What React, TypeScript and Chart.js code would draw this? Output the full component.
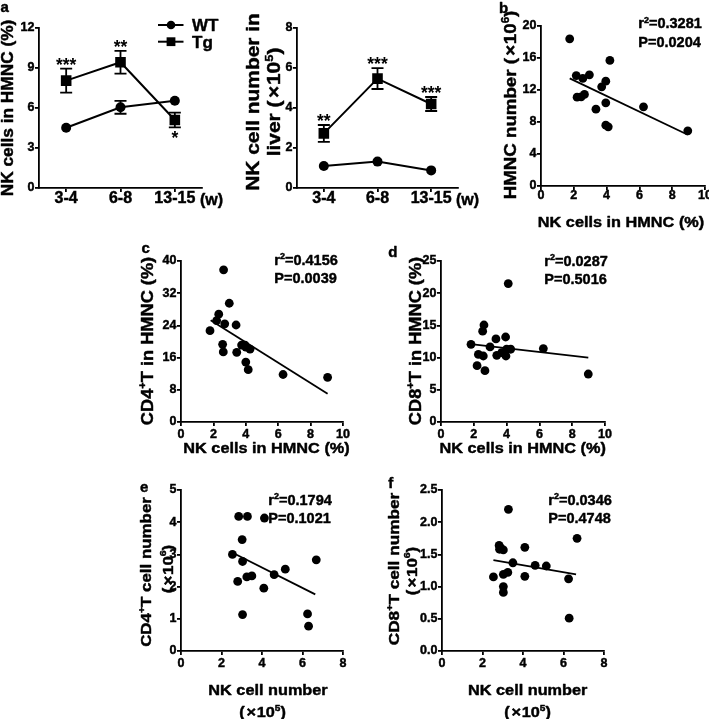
import React, { useEffect, useRef } from 'react';
import { Chart, registerables } from 'chart.js';

Chart.register(...registerables);

const W = 709;
const H = 719;
const FONT = '"Liberation Sans", Arial, Helvetica, sans-serif';
const HEAVY = 0.45;

// ---------- Panel a (left): NK cells in HMNC (%) ----------
const ageGroups = ['3-4', '6-8', '13-15'];
const pctWT = [4.52, 6.05, 6.55];
const pctWTErr = [0.1, 0.48, 0.12];
const pctTg = [8.05, 9.43, 5.1];
const pctTgErr = [0.9, 0.85, 0.55];
const pctStars = ['***', '**', '*'];
const pctStarSide = ['above', 'above', 'below'];

// ---------- Panel a (right): NK cell number in liver (x10^5) ----------
const numWT = [1.1, 1.32, 0.88];
const numWTErr = [0.08, 0.1, 0.08];
const numTg = [2.73, 5.47, 4.2];
const numTgErr = [0.42, 0.52, 0.35];
const numStars = ['**', '***', '***'];
const numStarSide = ['above', 'above', 'above'];

// ---------- Panel b ----------
const bNK = [1.75, 2.15, 2.2, 2.45, 2.65, 2.55, 2.95, 3.35, 3.7, 3.95, 3.95, 3.95, 4.1, 4.2, 6.25, 8.95];
const bHMNC = [18.4, 13.8, 11.1, 11.15, 11.45, 13.45, 13.9, 9.6, 12.4, 13.1, 10.4, 7.6, 7.4, 15.7, 9.9, 6.9];
const bFit = [[1.75, 13.45], [8.95, 6.4]];

// ---------- Panel c ----------
const cNK = [1.79, 2.2, 2.33, 2.63, 2.7, 2.57, 2.61, 2.98, 3.4, 3.44, 3.74, 3.95, 4.0, 4.26, 4.0, 4.15, 6.3, 9.05];
const cCD4 = [22.7, 25.2, 26.8, 37.8, 24.4, 19.3, 17.4, 29.5, 24.1, 17.3, 19.1, 19.1, 18.6, 18.1, 14.9, 13.0, 11.8, 11.1];
const cFit = [[1.83, 25.3], [9.05, 7.0]];

// ---------- Panel d ----------
const dNK = [1.83, 2.2, 2.28, 2.58, 2.62, 2.54, 2.68, 2.99, 3.35, 3.4, 3.7, 3.94, 3.96, 4.0, 4.25, 4.1, 6.24, 8.98];
const dCD8 = [12.06, 8.75, 10.5, 10.25, 15.06, 14.1, 7.97, 11.65, 12.9, 10.35, 10.77, 13.2, 10.25, 11.3, 11.3, 21.5, 11.4, 7.45];
const dFit = [[1.83, 12.1], [8.98, 10.0]];

// ---------- Panel e ----------
const eNK = [2.54, 2.8, 2.85, 3.02, 3.04, 3.04, 3.28, 3.25, 3.5, 4.09, 4.12, 4.6, 5.15, 6.68, 6.25, 6.3];
const eCD4 = [3.0, 2.16, 4.18, 3.46, 2.78, 1.13, 4.18, 2.3, 2.33, 1.95, 4.13, 2.37, 2.54, 2.83, 1.15, 0.77];
const eFit = [[2.55, 3.05], [6.63, 1.76]];

// ---------- Panel f ----------
const fNK = [2.54, 2.82, 2.84, 2.9, 3.03, 3.03, 3.25, 3.03, 3.03, 3.28, 3.5, 4.09, 4.09, 4.6, 5.15, 6.25, 6.28, 6.67];
const fCD8 = [1.15, 1.64, 1.58, 1.6, 1.57, 1.19, 1.22, 1.0, 0.91, 2.2, 1.37, 1.61, 1.16, 1.33, 1.32, 1.12, 0.51, 1.75];
const fFit = [[2.54, 1.41], [6.62, 1.19]];

type Box = { l: number; t: number; r: number; b: number };
type TextItem = {
  text: string;
  x: number;
  y: number;
  size: number;
  align?: 'left' | 'center' | 'right';
  rot?: boolean;
  along?: number;
  across?: number;
  base?: boolean;
};

function drawRich(ctx: CanvasRenderingContext2D, t: TextItem) {
  type Seg = { s: string; sup: boolean; w: number; padL: number; padR: number };
  const segs: Seg[] = [];
  const src = t.text;
  for (let i = 0; i < src.length; i++) {
    let ch = src[i];
    let sup = false;
    if (ch === '^') {
      sup = true;
      i++;
      ch = src[i];
    }
    const last = segs[segs.length - 1];
    if (!sup && ch !== '×' && last && !last.sup && last.s !== '×') last.s += ch;
    else segs.push({ s: ch, sup, w: 0, padL: 0, padR: 0 });
  }
  const size = t.size;
  const fontFor = (sg: Seg) => `bold ${sg.sup ? size * 0.62 : size}px ${FONT}`;
  let total = 0;
  for (const sg of segs) {
    ctx.font = fontFor(sg);
    sg.w = ctx.measureText(sg.s).width;
    if (sg.s === '×') {
      sg.padL = size * 0.12;
      sg.padR = size * 0.04;
    }
    total += sg.w + sg.padL + sg.padR;
  }
  ctx.save();
  ctx.translate(t.x, t.y);
  if (t.rot) ctx.rotate(-Math.PI / 2);
  ctx.scale(t.along ?? 1, t.across ?? 1);
  const align = t.align ?? 'center';
  let cx = align === 'center' ? -total / 2 : align === 'right' ? -total : 0;
  const baseY = t.base ? 0 : 0.358 * size;
  ctx.fillStyle = '#000';
  ctx.strokeStyle = '#000';
  ctx.lineWidth = HEAVY;
  ctx.lineJoin = 'round';
  ctx.textAlign = 'left';
  ctx.textBaseline = 'alphabetic';
  for (const sg of segs) {
    ctx.font = fontFor(sg);
    cx += sg.padL;
    const yy = sg.sup ? baseY - 0.4 * size : baseY;
    ctx.fillText(sg.s, cx, yy);
    ctx.strokeText(sg.s, cx, yy);
    cx += sg.w + sg.padR;
  }
  ctx.restore();
}

function makeScale(
  box: Box,
  axis: 'x' | 'y',
  o: { min?: number; max?: number; step?: number; size: number; pad: number; fmt?: (v: number) => string; category?: boolean }
) {
  const s: any = {
    position: axis === 'x' ? 'bottom' : 'left',
    grid: {
      display: true,
      drawOnChartArea: false,
      drawTicks: true,
      tickLength: 4,
      tickWidth: 1.8,
      tickColor: '#000',
      color: '#000',
      lineWidth: 1.8,
      offset: false,
    },
    border: { display: true, color: '#000', width: 1.8 },
    ticks: {
      color: '#000',
      textStrokeColor: '#000',
      textStrokeWidth: HEAVY,
      padding: o.pad,
      font: { family: FONT, size: o.size, weight: 'bold', lineHeight: 1 },
      autoSkip: false,
      maxRotation: 0,
      minRotation: 0,
    },
    afterFit: (sc: any) => {
      if (axis === 'x') sc.height = H - box.b;
      else sc.width = box.l;
      sc.paddingLeft = 0;
      sc.paddingRight = 0;
      sc.paddingTop = 0;
      sc.paddingBottom = 0;
    },
  };
  if (o.category) {
    s.type = 'category';
    s.offset = true;
  } else {
    s.type = 'linear';
    s.min = o.min;
    s.max = o.max;
    s.ticks.stepSize = o.step;
    if (o.fmt) s.ticks.callback = (v: any) => o.fmt!(Number(v));
  }
  return s;
}

function baseOptions(box: Box, x: any, y: any) {
  return {
    responsive: false,
    maintainAspectRatio: false,
    animation: false,
    events: [],
    layout: { padding: { left: 0, top: box.t, right: W - box.r, bottom: 0 }, autoPadding: false },
    plugins: { legend: { display: false }, tooltip: { enabled: false }, title: { display: false } },
    scales: { x, y },
  };
}

function linePanel(p: {
  box: Box;
  wt: number[];
  wtErr: number[];
  tg: number[];
  tgErr: number[];
  stars: string[];
  starSide: string[];
  starSize: number;
  yMax: number;
  yStep: number;
  texts: TextItem[];
  legend: boolean;
}) {
  const WT_R = 5;
  const TG_R = 7.5;
  const plugin = {
    id: 'deco',
    beforeDatasetsDraw(chart: any) {
      const ctx: CanvasRenderingContext2D = chart.ctx;
      const xs = chart.scales.x;
      const ys = chart.scales.y;
      ctx.save();
      ctx.strokeStyle = '#000';
      ctx.lineWidth = 1.8;
      const sets: [number[], number[], number][] = [
        [p.wt, p.wtErr, WT_R],
        [p.tg, p.tgErr, TG_R * Math.SQRT1_2],
      ];
      for (const [vals, errs, half] of sets) {
        vals.forEach((v, i) => {
          const x = xs.getPixelForValue(i);
          const y1 = ys.getPixelForValue(v + errs[i]);
          const y2 = ys.getPixelForValue(v - errs[i]);
          if ((y2 - y1) / 2 <= half) return;
          ctx.beginPath();
          ctx.moveTo(x, y1);
          ctx.lineTo(x, y2);
          ctx.moveTo(x - 6, y1);
          ctx.lineTo(x + 6, y1);
          ctx.moveTo(x - 6, y2);
          ctx.lineTo(x + 6, y2);
          ctx.stroke();
        });
      }
      ctx.restore();
    },
    afterDraw(chart: any) {
      const ctx: CanvasRenderingContext2D = chart.ctx;
      const xs = chart.scales.x;
      const ys = chart.scales.y;
      ctx.save();
      ctx.fillStyle = '#000';
      ctx.font = `bold ${p.starSize}px ${FONT}`;
      ctx.textAlign = 'center';
      ctx.textBaseline = 'alphabetic';
      p.stars.forEach((s, i) => {
        const x = xs.getPixelForValue(i);
        const above = p.starSide[i] === 'above';
        const yc = above
          ? ys.getPixelForValue(p.tg[i] + p.tgErr[i]) - 8
          : ys.getPixelForValue(p.tg[i] - p.tgErr[i]) + 6.5;
        ctx.fillText(s, x, yc + 0.585 * p.starSize);
      });
      if (p.legend) {
        const rows: [string, number, 'circle' | 'rect'][] = [
          ['WT', 25, 'circle'],
          ['Tg', 41.7, 'rect'],
        ];
        for (const [label, y, shape] of rows) {
          ctx.strokeStyle = '#000';
          ctx.lineWidth = 2;
          ctx.beginPath();
          ctx.moveTo(158, y);
          ctx.lineTo(183.5, y);
          ctx.stroke();
          ctx.beginPath();
          if (shape === 'circle') ctx.arc(171, y, 4.3, 0, Math.PI * 2);
          else ctx.rect(171 - 4.4, y - 4.4, 8.8, 8.8);
          ctx.fill();
          drawRich(ctx, { text: label, x: 192, y, size: 17, align: 'left' });
        }
      }
      ctx.restore();
      for (const t of p.texts) drawRich(ctx, t);
    },
  };
  const x = makeScale(p.box, 'x', { category: true, size: 16, pad: -1 });
  const y = makeScale(p.box, 'y', { min: 0, max: p.yMax, step: p.yStep, size: 12.5, pad: 0.5 });
  return {
    type: 'line',
    data: {
      labels: ageGroups,
      datasets: [
        {
          label: 'WT',
          data: p.wt,
          borderColor: '#000',
          backgroundColor: '#000',
          borderWidth: 2,
          pointStyle: 'circle',
          pointRadius: WT_R,
          pointBorderWidth: 0,
          tension: 0,
        },
        {
          label: 'Tg',
          data: p.tg,
          borderColor: '#000',
          backgroundColor: '#000',
          borderWidth: 2,
          pointStyle: 'rect',
          pointRadius: TG_R,
          pointBorderWidth: 0,
          tension: 0,
        },
      ],
    },
    options: baseOptions(p.box, x, y),
    plugins: [plugin],
  };
}

function scatterPanel(p: {
  box: Box;
  xs: number[];
  ys: number[];
  fit: number[][];
  xMax: number;
  xStep: number;
  yMax: number;
  yStep: number;
  yFmt?: (v: number) => string;
  xPad: number;
  texts: TextItem[];
}) {
  const plugin = {
    id: 'deco',
    afterDraw(chart: any) {
      for (const t of p.texts) drawRich(chart.ctx, t);
    },
  };
  const x = makeScale(p.box, 'x', { min: 0, max: p.xMax, step: p.xStep, size: 12.5, pad: p.xPad });
  const y = makeScale(p.box, 'y', { min: 0, max: p.yMax, step: p.yStep, size: 12.5, pad: 0.5, fmt: p.yFmt });
  return {
    type: 'scatter',
    data: {
      datasets: [
        {
          label: 'points',
          data: p.xs.map((v, i) => ({ x: v, y: p.ys[i] })),
          pointRadius: 4.4,
          pointBackgroundColor: '#000',
          pointBorderColor: '#000',
          pointBorderWidth: 0,
          showLine: false,
        },
        {
          label: 'fit',
          data: p.fit.map(([a, b]) => ({ x: a, y: b })),
          showLine: true,
          borderColor: '#000',
          borderWidth: 1.8,
          pointRadius: 0,
        },
      ],
    },
    options: baseOptions(p.box, x, y),
    plugins: [plugin],
  };
}

const XT = { size: 15.5, along: 1.05 };

const factories: (() => any)[] = [
  () =>
    linePanel({
      box: { l: 39, t: 28, r: 202, b: 188 },
      wt: pctWT,
      wtErr: pctWTErr,
      tg: pctTg,
      tgErr: pctTgErr,
      stars: pctStars,
      starSide: pctStarSide,
      starSize: 17.5,
      yMax: 12,
      yStep: 3,
      legend: true,
      texts: [
        { text: 'a', x: 0.5, y: 12.3, size: 15, align: 'left', base: true },
        { text: 'NK cells in HMNC (%)', x: 7.5, y: 108, size: 16, rot: true, along: 1.08 },
        { text: '(w)', x: 200, y: 199, size: 16, align: 'left' },
      ],
    }),
  () =>
    linePanel({
      box: { l: 297, t: 28, r: 458, b: 188 },
      wt: numWT,
      wtErr: numWTErr,
      tg: numTg,
      tgErr: numTgErr,
      stars: numStars,
      starSide: numStarSide,
      starSize: 17.5,
      yMax: 8,
      yStep: 2,
      legend: false,
      texts: [
        { text: 'NK cell number in', x: 252, y: 102, size: 19, rot: true, along: 1.1 },
        { text: 'liver (×10^5)', x: 273.5, y: 102, size: 19, rot: true, along: 1.1 },
        { text: '(w)', x: 456, y: 199, size: 16, align: 'left' },
      ],
    }),
  () =>
    scatterPanel({
      box: { l: 541, t: 26, r: 705, b: 186 },
      xs: bNK,
      ys: bHMNC,
      fit: bFit,
      xMax: 10,
      xStep: 2,
      yMax: 20,
      yStep: 4,
      xPad: -0.75,
      texts: [
        { text: 'b', x: 499, y: 13.3, size: 15, align: 'left', base: true },
        { text: 'HMNC number (×10^6)', x: 510, y: 105, size: 17, rot: true, along: 1.1 },
        { text: 'NK cells in HMNC (%)', x: 621, y: 221.7, ...XT },
        { text: 'r^2=0.3281', x: 638.3, y: 28.3, size: 14.5, align: 'left', base: true },
        { text: 'P=0.0204', x: 638.3, y: 46.7, size: 14.5, align: 'left', base: true },
      ],
    }),
  () =>
    scatterPanel({
      box: { l: 181, t: 261, r: 343, b: 422 },
      xs: cNK,
      ys: cCD4,
      fit: cFit,
      xMax: 10,
      xStep: 2,
      yMax: 40,
      yStep: 8,
      xPad: 2.3,
      texts: [
        { text: 'c', x: 141.5, y: 253.3, size: 15, align: 'left', base: true },
        { text: 'CD4^+T in HMNC (%)', x: 146.5, y: 341, size: 17, rot: true, along: 1.07 },
        { text: 'NK cells in HMNC (%)', x: 266.5, y: 447, ...XT },
        { text: 'r^2=0.4156', x: 274.3, y: 265, size: 14.5, align: 'left', base: true },
        { text: 'P=0.0039', x: 274.3, y: 282.7, size: 14.5, align: 'left', base: true },
      ],
    }),
  () =>
    scatterPanel({
      box: { l: 441, t: 261, r: 605, b: 422 },
      xs: dNK,
      ys: dCD8,
      fit: dFit,
      xMax: 10,
      xStep: 2,
      yMax: 25,
      yStep: 5,
      xPad: 2.3,
      texts: [
        { text: 'd', x: 388.3, y: 256.7, size: 15, align: 'left', base: true },
        { text: 'CD8^+T in HMNC (%)', x: 415, y: 341, size: 17, rot: true, along: 1.07 },
        { text: 'NK cells in HMNC (%)', x: 522.7, y: 447, ...XT },
        { text: 'r^2=0.0287', x: 544.3, y: 266, size: 14.5, align: 'left', base: true },
        { text: 'P=0.5016', x: 544.3, y: 284, size: 14.5, align: 'left', base: true },
      ],
    }),
  () =>
    scatterPanel({
      box: { l: 181, t: 490, r: 343, b: 651 },
      xs: eNK,
      ys: eCD4,
      fit: eFit,
      xMax: 8,
      xStep: 2,
      yMax: 5,
      yStep: 1,
      xPad: 2.5,
      texts: [
        { text: 'e', x: 140, y: 491.7, size: 15, align: 'left', base: true },
        { text: 'CD4^+T cell number', x: 145.5, y: 572, size: 15.5, rot: true, along: 1.09 },
        { text: '(×10^6)', x: 167, y: 569, size: 15.5, rot: true, along: 1.09 },
        { text: 'NK cell number', x: 268, y: 689, ...XT },
        { text: '(×10^5)', x: 262.5, y: 711.5, ...XT },
        { text: 'r^2=0.1794', x: 268.3, y: 505, size: 14.5, align: 'left', base: true },
        { text: 'P=0.1021', x: 268.3, y: 523.3, size: 14.5, align: 'left', base: true },
      ],
    }),
  () =>
    scatterPanel({
      box: { l: 442, t: 490, r: 604, b: 651 },
      xs: fNK,
      ys: fCD8,
      fit: fFit,
      xMax: 8,
      xStep: 2,
      yMax: 2.5,
      yStep: 0.5,
      yFmt: (v) => v.toFixed(1),
      xPad: 2.5,
      texts: [
        { text: 'f', x: 388.3, y: 488.3, size: 15, align: 'left', base: true },
        { text: 'CD8^+T cell number', x: 393.5, y: 569, size: 15.5, rot: true, along: 1.11 },
        { text: '(×10^6)', x: 411, y: 571, size: 15.5, rot: true, along: 1.09 },
        { text: 'NK cell number', x: 527.7, y: 689, ...XT },
        { text: '(×10^5)', x: 527.5, y: 711.5, ...XT },
        { text: 'r^2=0.0346', x: 548.3, y: 505, size: 14.5, align: 'left', base: true },
        { text: 'P=0.4748', x: 548.3, y: 523.3, size: 14.5, align: 'left', base: true },
      ],
    }),
];

function ChartCanvas({ make }: { make: () => any }) {
  const ref = useRef<HTMLCanvasElement>(null);
  useEffect(() => {
    if (!ref.current) return;
    const chart = new Chart(ref.current, make());
    return () => chart.destroy();
  }, [make]);
  return (
    <canvas
      ref={ref}
      width={W}
      height={H}
      style={{ position: 'absolute', left: 0, top: 0, width: W, height: H }}
    />
  );
}

export default function App() {
  return (
    <div
      style={{
        position: 'absolute',
        left: 0,
        top: 0,
        width: W,
        height: H,
        background: '#fff',
        overflow: 'hidden',
      }}
    >
      {factories.map((f, i) => (
        <ChartCanvas key={i} make={f} />
      ))}
    </div>
  );
}
